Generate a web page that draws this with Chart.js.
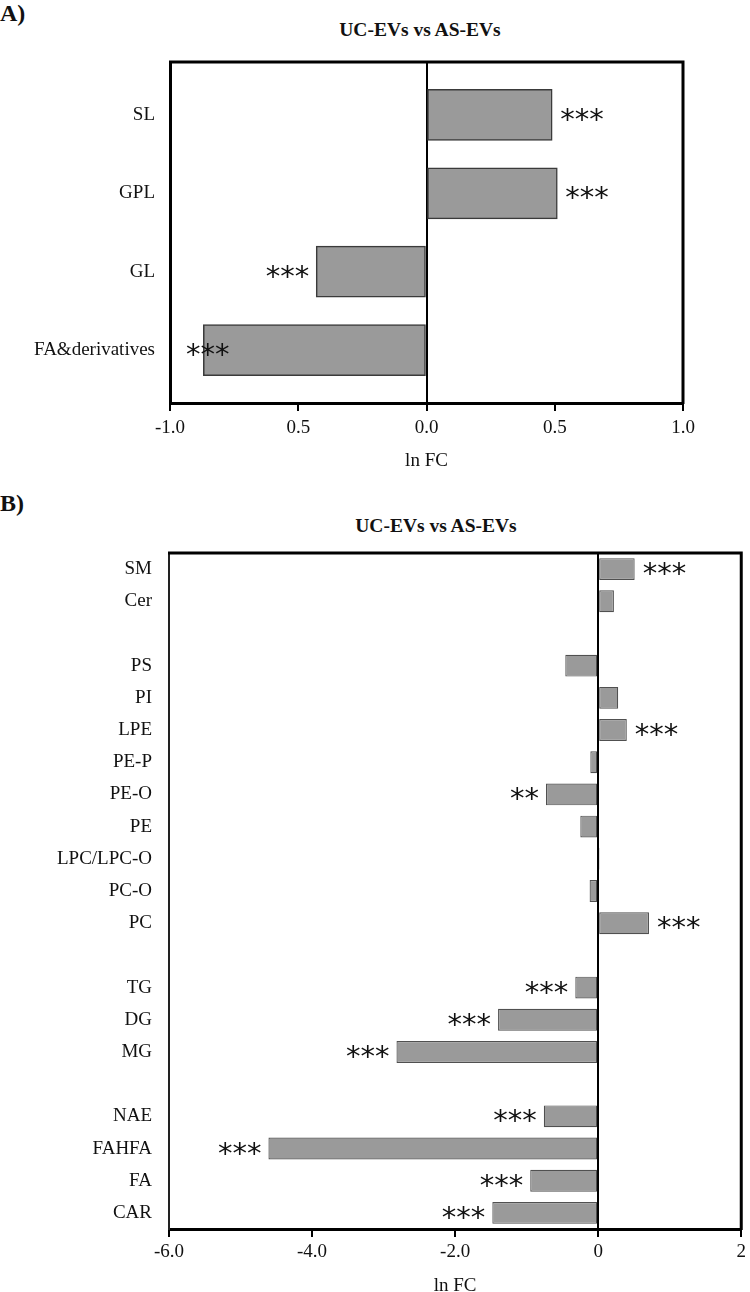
<!doctype html>
<html lang="en">
<head>
  <meta charset="utf-8">
  <title>UC-EVs vs AS-EVs</title>
  <style>
    html, body { margin: 0; background: #fff; overflow: hidden; }
    body { width: 750px; height: 1292px; position: relative; font-family: 'Liberation Serif', 'Times New Roman', serif; color: #111; }
    .panel { position: absolute; left: 0; font-weight: bold; font-size: 24px; line-height: 24px; }
    .title { position: absolute; left: 0; text-align: center; font-weight: bold; font-size: 19.5px; line-height: 20px; white-space: nowrap; }
    .box { position: absolute; left: 0; width: 750px; }
  </style>
</head>
<body>
  <div class="panel" style="top:1px">A)</div>
  <div class="title" style="top:20px;width:840px">UC-EVs vs AS-EVs</div>
  <div class="box" style="top:0;height:480px"><canvas id="chartA"></canvas></div>

  <div class="panel" style="top:491px">B)</div>
  <div class="title" style="top:516px;width:872px">UC-EVs vs AS-EVs</div>
  <div class="box" style="top:480px;height:830px"><canvas id="chartB"></canvas></div>

  <script src="https://cdn.jsdelivr.net/npm/chart.js@4.4.2/dist/chart.umd.min.js"></script>
  <script>
    // panel A
    const labelsA = ['SL', 'GPL', 'GL', 'FA&derivatives'];
    const valuesA = [0.49, 0.51, -0.43, -0.87];
    const starsA = ['***', '***', '***', '***'];
    const tickValuesA = [-1, -0.5, 0, 0.5, 1];
    const tickLabelsA = ['-1.0', '0.5', '0.0', '0.5', '1.0'];

    // panel B (blank rows separate the lipid groups)
    const labelsB = ['SM', 'Cer', '', 'PS', 'PI', 'LPE', 'PE-P', 'PE-O', 'PE', 'LPC/LPC-O', 'PC-O', 'PC', '',
      'TG', 'DG', 'MG', '', 'NAE', 'FAHFA', 'FA', 'CAR'];
    const valuesB = [0.51, 0.22, null, -0.46, 0.28, 0.40, -0.11, -0.73, -0.25, 0.02, -0.12, 0.71, null,
      -0.32, -1.40, -2.82, null, -0.76, -4.61, -0.95, -1.48];
    const starsB = ['***', '', '', '', '', '***', '', '**', '', '', '', '***', '',
      '***', '***', '***', '', '***', '***', '***', '***'];
    const tickValuesB = [-6, -4, -2, 0, 2];
    const tickLabelsB = ['-6.0', '-4.0', '-2.0', '0', '2'];

    Chart.defaults.font.family = "'Liberation Serif', 'Times New Roman', serif";
    Chart.defaults.font.size = 19;
    Chart.defaults.color = '#111';
    Chart.defaults.animation = false;

    function tickText(values, labels) {
      return v => {
        const i = values.findIndex(t => Math.abs(t - v) < 1e-6);
        return i < 0 ? '' : labels[i];
      };
    }

    // top and right sides of the box
    const frame = {
      id: 'frame',
      afterDraw(chart) {
        const {ctx, chartArea: a} = chart;
        ctx.save();
        ctx.strokeStyle = '#000';
        ctx.lineWidth = 3;
        ctx.beginPath();
        ctx.moveTo(a.left - 1, a.top);
        ctx.lineTo(a.right, a.top);
        ctx.lineTo(a.right, a.bottom + 1);
        ctx.stroke();
        ctx.restore();
      }
    };

    // significance marks beside each bar, kept inside the plot box
    function stars(marks) {
      return {
        id: 'stars',
        afterDatasetsDraw(chart) {
          const ctx = chart.ctx;
          const a = chart.chartArea;
          const bars = chart.getDatasetMeta(0).data;
          ctx.save();
          ctx.font = "29px 'DejaVu Sans'";
          ctx.fillStyle = '#111';
          ctx.textAlign = 'left';
          bars.forEach((bar, i) => {
            const s = marks[i];
            if (!s) return;
            const m = ctx.measureText(s);
            const y = bar.y + (m.actualBoundingBoxAscent - m.actualBoundingBoxDescent) / 2;
            let x;
            if (bar.x >= bar.base) {
              x = bar.x + 8;
            } else {
              x = Math.max(bar.x - 7 - m.width, a.left + 16);
            }
            ctx.fillText(s, x, y);
          });
          ctx.restore();
        }
      };
    }

    const xGrid = {
      color: c => (c.tick && c.tick.value === 0 ? '#000' : 'rgba(0,0,0,0)'),
      lineWidth: 2,
      tickColor: '#000',
      tickLength: 8,
      tickWidth: 2
    };

    new Chart(document.getElementById('chartA'), {
      type: 'bar',
      data: {
        datasets: [{
          data: valuesA.map((v, i) => ({x: v, y: i})),
          backgroundColor: '#9a9a9a',
          borderColor: '#3a3a3a',
          borderWidth: 1.5,
          borderSkipped: false,
          barThickness: 51
        }]
      },
      options: {
        indexAxis: 'y',
        responsive: true,
        maintainAspectRatio: false,
        layout: { padding: { top: 62, right: 67, bottom: 7, left: 0 } },
        plugins: { legend: { display: false }, tooltip: { enabled: false } },
        scales: {
          x: {
            type: 'linear', min: -1, max: 1, z: 1,
            afterFit: s => { s.height = 70; },
            ticks: { stepSize: 0.5, padding: 6, maxRotation: 0, callback: tickText(tickValuesA, tickLabelsA) },
            grid: xGrid,
            border: { color: '#000', width: 3 },
            title: { display: true, text: 'ln FC', padding: { top: 0, bottom: 1 } }
          },
          y: {
            type: 'linear', reverse: true, offset: false, min: -0.675, max: 3.675,
            afterFit: s => { s.width = 170; },
            ticks: { stepSize: 1, includeBounds: false, autoSkip: false, padding: 15, callback: v => labelsA[v] ?? '' },
            grid: { display: false, drawTicks: false, tickLength: 0 },
            border: { color: '#000', width: 3 }
          }
        }
      },
      plugins: [frame, stars(starsA)]
    });

    new Chart(document.getElementById('chartB'), {
      type: 'bar',
      data: {
        labels: labelsB,
        datasets: [{
          data: valuesB,
          backgroundColor: '#9a9a9a',
          borderColor: '#505050',
          borderWidth: 1.2,
          borderSkipped: false,
          barPercentage: 0.68,
          categoryPercentage: 1
        }]
      },
      options: {
        indexAxis: 'y',
        responsive: true,
        maintainAspectRatio: false,
        layout: { padding: { top: 73, right: 4, bottom: 11, left: 0 } },
        plugins: { legend: { display: false }, tooltip: { enabled: false } },
        scales: {
          x: {
            type: 'linear', min: -6, max: 2, z: 1,
            afterFit: s => { s.height = 70; },
            ticks: { stepSize: 2, padding: 4, maxRotation: 0, callback: tickText(tickValuesB, tickLabelsB) },
            grid: xGrid,
            border: { color: '#000', width: 3 },
            title: { display: true, text: 'ln FC', padding: { top: 0, bottom: 2 } }
          },
          y: {
            afterFit: s => { s.width = 169; },
            ticks: { autoSkip: false, padding: 17 },
            grid: { display: false, drawTicks: false, tickLength: 0 },
            border: { color: '#222', width: 2 }
          }
        }
      },
      plugins: [frame, stars(starsB)]
    });
  </script>
</body>
</html>
